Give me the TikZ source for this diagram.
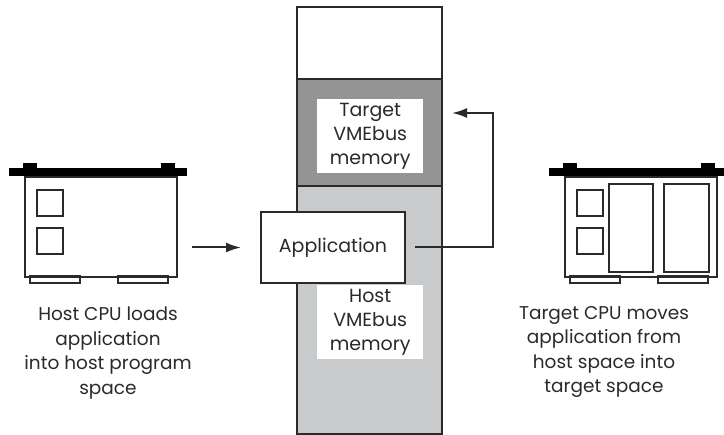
\documentclass[tikz,border=0pt]{standalone}
\usepackage{fontspec}
\setmainfont{Poppins}
\usetikzlibrary{arrows.meta,positioning}
\definecolor{darkmem}{HTML}{949494}
\definecolor{lightmem}{HTML}{C9CACC}
\definecolor{ink}{HTML}{2A2A2A}
\begin{document}
\begin{tikzpicture}[x=1pt,y=-1pt,
  outline/.style={draw=ink,line width=2pt},
  region/.style={outline,anchor=north west,inner sep=0pt},
  label/.style={fill=white,anchor=north west,inner sep=0pt,align=center,
    font=\fontsize{19}{24}\selectfont,text=ink},
  caption/.style={align=center,font=\fontsize{18.5}{24.5}\selectfont,text=ink},
  flow/.style={draw=ink,line width=2pt,-{Latex[length=15pt,width=10pt]}},
  chip/.style={outline,anchor=north west,inner sep=0pt,minimum width=26pt,minimum height=26pt},
  foot/.style={outline,line width=1.8pt}]
\useasboundingbox (0,0) rectangle (724,435);

% memory column
\node[region,fill=white,minimum width=145pt,minimum height=72pt] (free) at (296,6) {};
\node[region,fill=darkmem,minimum width=145pt,minimum height=107pt] (tmem) at (296,78) {};
\node[region,fill=lightmem,minimum width=145pt,minimum height=248pt] (hmem) at (296,185) {};
\node[label,minimum width=106pt,minimum height=74pt] (tlab) at (317,99) {Target\\VMEbus\\memory};
\node[label,minimum width=106pt,minimum height=74pt] (hlab) at (317,285) {Host\\VMEbus\\memory};
\node[region,fill=white,minimum width=144pt,minimum height=71pt,
  font=\fontsize{19}{22}\selectfont,text=ink] (app) at (260,211) {Application};

% host CPU board
\node[region,fill=white,minimum width=152pt,minimum height=100pt] (hboard) at (24,176) {};
\fill[black] (9,168) rectangle (187,176);
\fill[black] (23,163) rectangle (37,176);
\fill[black] (161,163) rectangle (175,176);
\node[chip] (hc1) at (36,189) {};
\node[chip] (hc2) at (36,227) {};
\draw[foot] (30,276) rectangle (80,283);
\draw[foot] (118,276) rectangle (168,283);
\node[caption] (hcap) at (108,353) {Host CPU loads\\application\\into host program\\space};

% target CPU board
\node[region,fill=white,minimum width=152pt,minimum height=100pt] (tboard) at (564,176) {};
\fill[black] (549,168) rectangle (727,176);
\fill[black] (563,163) rectangle (577,176);
\fill[black] (701,163) rectangle (715,176);
\node[chip] (tc1) at (576,189) {};
\node[chip] (tc2) at (576,227) {};
\node[region,minimum width=44pt,minimum height=88pt] (tm1) at (608,183) {};
\node[region,minimum width=45pt,minimum height=88pt] (tm2) at (663,183) {};
\draw[foot] (570,276) rectangle (620,283);
\draw[foot] (658,276) rectangle (708,283);
\node[caption] (tcap) at (604,352) {Target CPU moves\\application from\\host space into\\target space};

% data movement
\draw[flow] ([xshift=14pt]hboard.east |- app.west) -- ([xshift=-19pt]app.west);
\coordinate (turn) at (493,113);
\draw[flow] ([xshift=9pt]app.east) -| (turn) -- ([xshift=9pt]tmem.east |- turn);
\end{tikzpicture}
\end{document}
